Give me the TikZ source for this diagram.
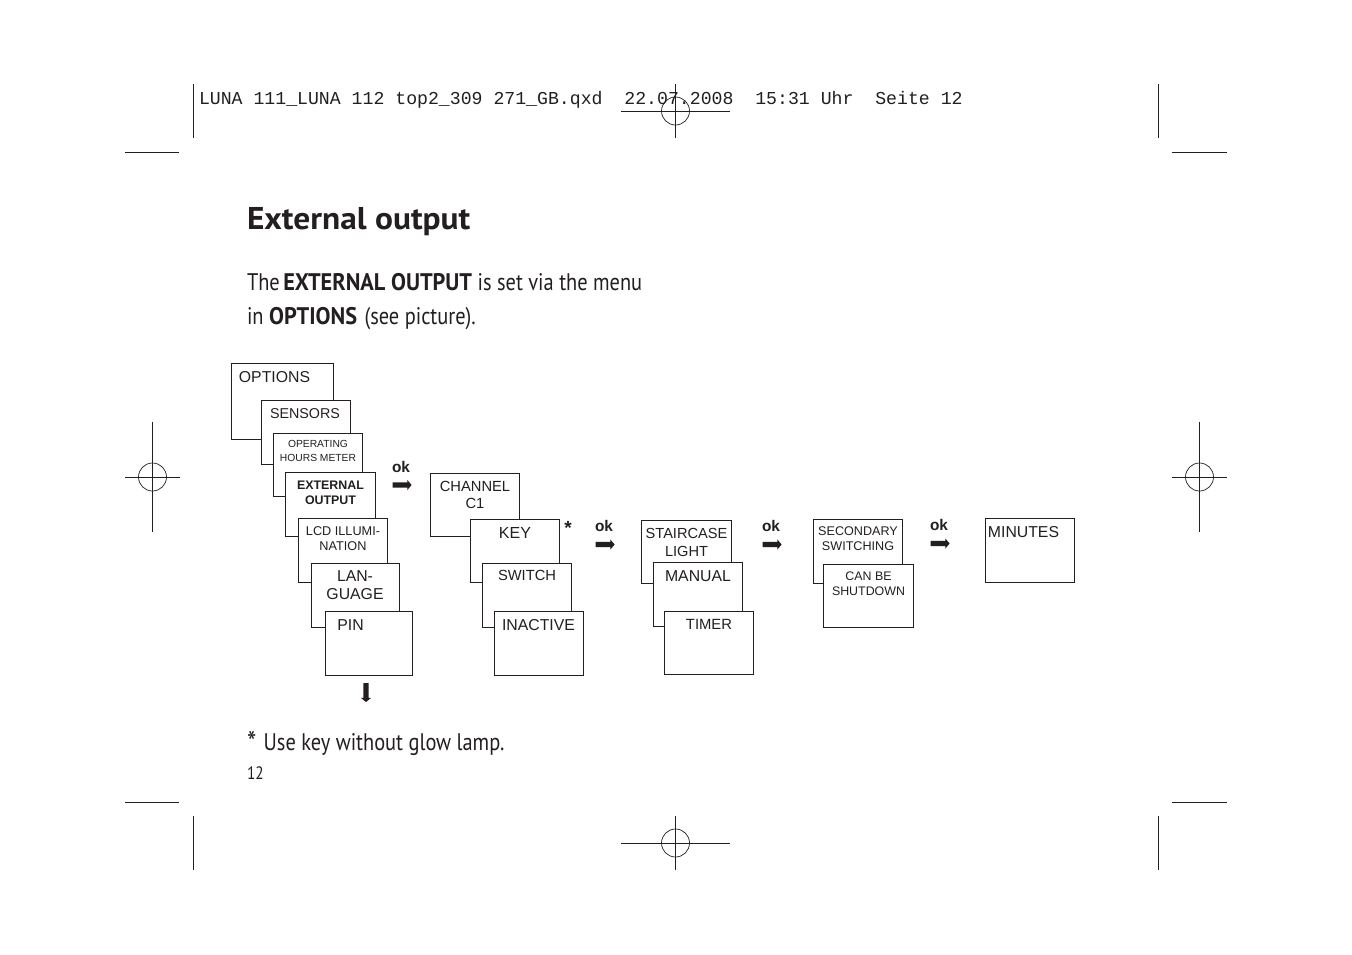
\documentclass[tikz,border=0pt]{standalone}
\usepackage{fontspec}
\usetikzlibrary{shapes.arrows,calc}
\setmainfont{Liberation Sans}
\newfontfamily\bodyf[FakeStretch=0.85,BoldFeatures={FakeStretch=0.93}]{PT Sans}
\newfontfamily\titlef[FakeStretch=1.06]{PT Sans}
\newfontfamily\headf{Liberation Mono}
\definecolor{ink}{HTML}{231F20}
\tikzset{
  x=1pt,y=-1pt,
  menubox/.style={draw=ink,fill=white,line width=0.85pt,inner sep=0,outer sep=0},
  menutext/.style={text=ink,inner sep=0,outer sep=0,align=center},
  crop/.style={draw=ink,line width=0.8pt},
  okarrow/.style={single arrow,fill=ink,draw=none,inner xsep=0,inner ysep=2.4pt,outer sep=0,minimum height=19pt,minimum width=9.6pt,single arrow head extend=2.4pt,single arrow tip angle=100},
  oklabel/.style={text=ink,inner sep=0,outer sep=0,font=\fontsize{15.4}{18}\selectfont\bfseries},
  bodytext/.style={text=ink,inner sep=0,outer sep=0,anchor=base west}
}
\newcommand{\menubx}[5]{%
  \path let \n1={#4-#2},\n2={#5-#3} in
    node[menubox,minimum width=\n1 pt,minimum height=\n2 pt,anchor=north west] (#1) at (#2,#3) {};}
\newcommand{\menulbl}[6]{\node[menutext,font=\fontsize{#4}{#5}\selectfont] (#1) at (#2,#3) {#6};}
\newcommand{\regmark}[2]{%
  \draw[crop] (#1-54.5,#2) -- (#1+54.5,#2);
  \draw[crop] (#1,#2-27) -- (#1,#2+27);
  \draw[crop,line width=0.7pt] (#1,#2) circle (14);}
\newcommand{\regmarkv}[2]{%
  \draw[crop] (#1-27.5,#2) -- (#1+27.5,#2);
  \draw[crop] (#1,#2-55) -- (#1,#2+55);
  \draw[crop,line width=0.7pt] (#1,#2) circle (14);}
\begin{document}
\begin{tikzpicture}
\useasboundingbox (0,0) rectangle (1352,954);
\fill[white] (0,0) rectangle (1352,954);
% header
\node[bodytext,font=\headf\fontsize{18.18}{20}\selectfont] (header) at (199,104) {LUNA 111\_LUNA 112 top2\_309 271\_GB.qxd\ \ 22.07.2008\ \ 15:31 Uhr\ \ Seite 12};
% crop marks
\draw[crop] (193,84) -- (193,138);
\draw[crop] (1158.5,84) -- (1158.5,138);
\draw[crop] (125,152.5) -- (179,152.5);
\draw[crop] (1172,152.5) -- (1227,152.5);
\draw[crop] (125,802.5) -- (179,802.5);
\draw[crop] (1172,802.5) -- (1227,802.5);
\draw[crop] (193,816) -- (193,870);
\draw[crop] (1158.5,816) -- (1158.5,870);
\regmark{675.5}{111}
\regmark{675.5}{843}
\regmarkv{152.5}{477}
\regmarkv{1199.5}{477}
% text
\node[bodytext,font=\titlef\bfseries\fontsize{31.5}{36}\selectfont] (title) at (247,229) {External output};
\node[bodytext,font=\bodyf\fontsize{24}{28}\selectfont] (introa) at (247,290) {The\hspace{-2pt} \textbf{EXTERNAL OUTPUT} is set via the menu};
\node[bodytext,font=\bodyf\fontsize{24}{28}\selectfont] (introb) at (247,324) {in \textbf{OPTIONS}\hspace{2pt} (see picture).};
\node[bodytext,font=\bodyf\fontsize{24}{28}\selectfont] (note) at (247,750) {\raisebox{-3pt}{\fontsize{31}{31}\selectfont *}\hspace{2pt} Use key without glow lamp.};
\node[bodytext,font=\bodyf\fontsize{18}{22}\selectfont] (pageno) at (247,779) {12};
% first stack
\menubx{b1}{231.5}{363.5}{333.5}{439.5}
\menubx{b2}{261.5}{400.5}{350.5}{464.5}
\menubx{b3}{273.5}{433.5}{362.5}{496.5}
\menubx{b4}{285.5}{472.5}{375.5}{536.5}
\menubx{b5}{298.5}{518.5}{387.5}{582.5}
\menubx{b6}{311}{563.5}{399.5}{627}
\menubx{b7}{325.5}{611.5}{412.5}{675.5}
\menulbl{t1}{274.5}{377}{15.8}{18}{OPTIONS}
\menulbl{t2}{305}{413.4}{14.3}{17}{SENSORS}
\menulbl{t3}{318}{451.2}{10.3}{14}{OPERATING\\HOURS METER}
\menulbl{t4}{330.5}{492.5}{12.4}{15}{\textbf{EXTERNAL}\\\textbf{OUTPUT}}
\menulbl{t5}{343}{538.5}{12.7}{15}{LCD ILLUMI-\\NATION}
\menulbl{t6}{355}{585.5}{15.8}{18}{LAN-\\GUAGE}
\menulbl{t7}{350.5}{625}{15.8}{18}{PIN}
% second stack
\menubx{c1}{430.5}{473.5}{519.5}{536.5}
\menubx{c2}{470.5}{519.5}{559.5}{582.5}
\menubx{c3}{482.5}{563.5}{571.5}{627}
\menubx{c4}{494.5}{611.5}{583.5}{675.5}
\menulbl{u1}{475}{494.5}{14.7}{17}{CHANNEL\\C1}
\menulbl{u2}{515}{533}{16}{18}{KEY}
\menulbl{u3}{527}{575}{14.7}{17}{SWITCH}
\menulbl{u4}{538.5}{625}{15.8}{18}{INACTIVE}
% third stack
\menubx{d1}{641.5}{520.5}{731.5}{583.5}
\menubx{d2}{653.5}{562.5}{742.5}{626.5}
\menubx{d3}{664.5}{611.5}{753.5}{674.5}
\menulbl{v1}{686.5}{542}{14.6}{18}{STAIRCASE\\LIGHT}
\menulbl{v2}{698}{576}{15.8}{18}{MANUAL}
\menulbl{v3}{709}{624}{14.8}{18}{TIMER}
% fourth stack
\menubx{e1}{813.5}{519.5}{902.5}{583.5}
\menubx{e2}{823.5}{564.5}{913.5}{627.5}
\menulbl{w1}{858}{538.5}{12.6}{15}{SECONDARY\\SWITCHING}
\menulbl{w2}{868.5}{583.5}{12.4}{15}{CAN BE\\SHUTDOWN}
% last
\menubx{f1}{985.5}{518.5}{1074.5}{582.5}
\menulbl{x1}{1023.5}{532}{15.8}{18}{MINUTES}
% ok arrows
\node[oklabel] (ok1) at (401,467) {ok};
\node[okarrow] (ar1) at (401,485) {};
\node[oklabel] (ok2) at (604,526) {ok};
\node[okarrow] (ar2) at (604,544.5) {};
\node[oklabel] (ok3) at (771,526) {ok};
\node[okarrow] (ar3) at (771,544.5) {};
\node[oklabel] (ok4) at (939,525) {ok};
\node[okarrow] (ar4) at (939,543.5) {};
\node[okarrow,rotate=-90] (ar5) at (366,691.5) {};
\node[text=ink,inner sep=0,font=\fontsize{19}{20}\selectfont\bfseries] (star) at (568,528) {*};
\end{tikzpicture}
\end{document}
